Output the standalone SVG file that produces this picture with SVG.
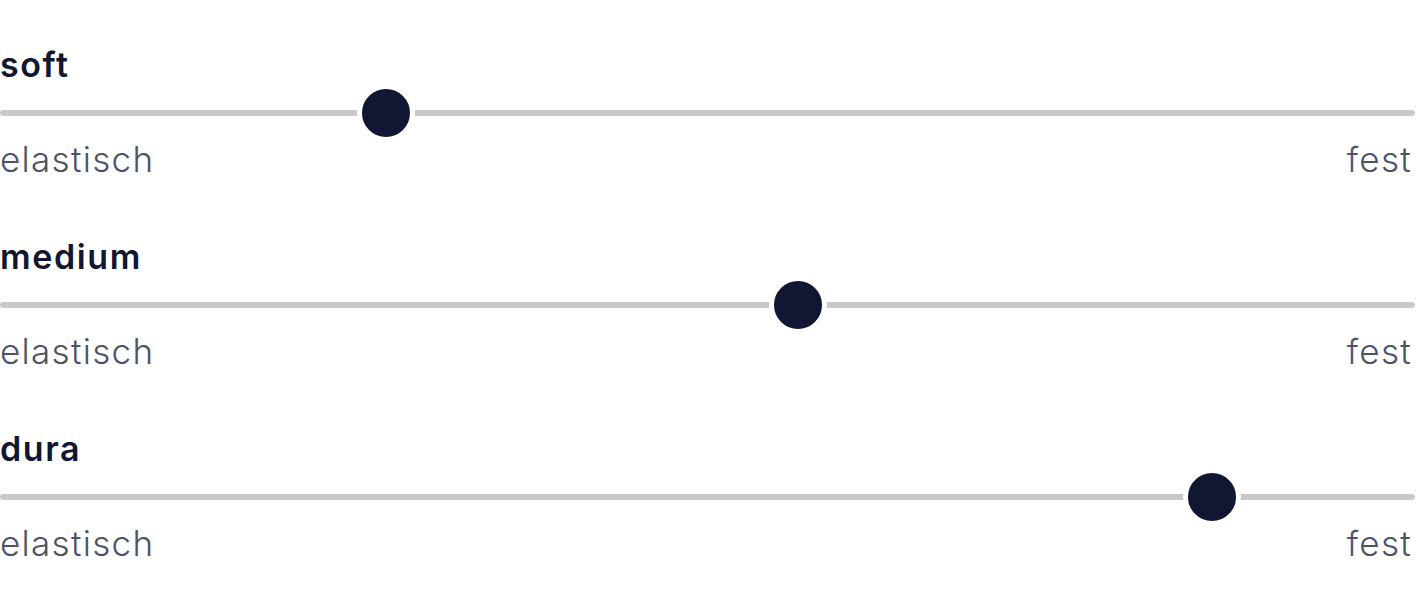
<svg xmlns="http://www.w3.org/2000/svg" width="1417" height="593" viewBox="0 0 1417 593">
<style>
.title{font-family:"Inter","Noto Sans",sans-serif;font-weight:600;font-size:34px;letter-spacing:1.6px;fill:#111633;font-variant-ligatures:none}
.lbl{font-family:"Inter","Noto Sans",sans-serif;font-weight:300;font-size:35px;letter-spacing:1.3px;fill:#4d5367;font-variant-ligatures:none}
.track{stroke:#c9c9cd;stroke-width:6;stroke-linecap:round;fill:none}
.knob{fill:#111633;stroke:#ffffff;stroke-width:5}
</style>
<rect width="1417" height="593" fill="#ffffff"/>
<g id="connectors">
<line class="track" x1="3" y1="113" x2="1412" y2="113"/>
<line class="track" x1="3" y1="305" x2="1412" y2="305"/>
<line class="track" x1="3" y1="497" x2="1412" y2="497"/>
</g>
<g id="soft">
<text class="title" x="0" y="77">soft</text>
<circle class="knob" cx="386" cy="113" r="26.5"/>
<text class="lbl" x="0" y="172">elastisch</text>
<text class="lbl" x="1412" y="172" text-anchor="end">fest</text>
</g>
<g id="medium">
<text class="title" x="0" y="269">medium</text>
<circle class="knob" cx="798" cy="305" r="26.5"/>
<text class="lbl" x="0" y="364">elastisch</text>
<text class="lbl" x="1412" y="364" text-anchor="end">fest</text>
</g>
<g id="dura">
<text class="title" x="0" y="461">dura</text>
<circle class="knob" cx="1212" cy="497" r="26.5"/>
<text class="lbl" x="0" y="556">elastisch</text>
<text class="lbl" x="1412" y="556" text-anchor="end">fest</text>
</g>
</svg>
